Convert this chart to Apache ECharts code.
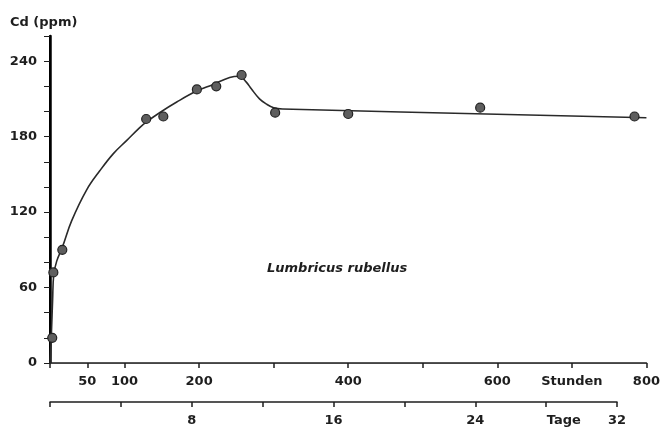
<!DOCTYPE html>
<html>
<head>
<meta charset="utf-8">
<script src="https://cdn.jsdelivr.net/npm/echarts@6/dist/echarts.min.js"></script>
<style>
  html, body { margin: 0; padding: 0; background: #fff; }
  #chart { width: 663px; height: 427px; }
</style>
</head>
<body>
<div id="chart"></div>
<script>
// Cadmium uptake by Lumbricus rubellus over time
var sampleHours = [3, 4.5, 16.5, 129, 152, 197, 223, 257, 302, 400, 577, 784];
var sampleCd    = [20, 72, 90, 194, 196, 217.5, 220, 229, 199, 198, 203, 196];

// fitted uptake curve (hours, ppm)
var curveHours = [0, 2, 3.5, 5, 9, 16.5, 29, 49, 67, 85, 103, 120, 129, 147, 170, 196, 219, 241, 254, 263, 270, 281, 290, 300, 312, 800];
var curveCd    = [0, 25, 50, 70, 81, 92, 113, 137.5, 153, 166.5, 177, 187, 191.5, 199, 207.5, 216, 221.5, 227, 228, 223.5, 218, 210, 206, 203, 202, 195];

var hourTicks  = [0, 50, 100, 200, 300, 400, 500, 600, 700, 800];
var hourLabels = [50, 100, 200, 400, 600, 700, 800];
var dayTicks   = [0, 4, 8, 12, 16, 20, 24, 28, 32];
var dayLabels  = [8, 16, 24, 29, 32];
var cdLabels   = [0, 60, 120, 180, 240];

var ink = '#1e1e1e';
var font = '"DejaVu Sans", Verdana, sans-serif';
var labelStyle = { color: ink, fontSize: 13, fontWeight: 'bold', fontFamily: font };

var chart = echarts.init(document.getElementById('chart'), null, { renderer: 'canvas' });

chart.setOption({
  backgroundColor: '#fff',
  animation: false,
  title: {
    text: 'Cd (ppm)',
    left: 5, top: 11,
    textStyle: { color: ink, fontSize: 13, fontWeight: 'bold', fontFamily: font }
  },
  grid: [
    { left: 50, right: 15, top: 36, bottom: 64 },
    { left: 50, width: 567, top: 401, height: 1 }
  ],
  xAxis: [
    {
      gridIndex: 0, type: 'value', position: 'bottom', min: 0, max: 800,
      axisLine: { show: true, lineStyle: { color: ink, width: 1.5 } },
      axisTick: { show: true, inside: false, length: 5, customValues: hourTicks, lineStyle: { color: ink, width: 1.5 } },
      axisLabel: Object.assign({
        margin: 12,
        customValues: hourLabels,
        formatter: function (v) { return v === 700 ? 'Stunden' : String(v); }
      }, labelStyle),
      splitLine: { show: false }
    },
    {
      gridIndex: 0, type: 'value', position: 'top', min: 0, max: 800,
      axisLine: { show: true, lineStyle: { color: '#444', width: 1 } },
      axisTick: { show: false }, axisLabel: { show: false }, splitLine: { show: false }
    },
    {
      gridIndex: 1, type: 'value', position: 'bottom', min: 0, max: 32,
      axisLine: { show: true, lineStyle: { color: ink, width: 1.5 } },
      axisTick: { show: true, length: 5, customValues: dayTicks, lineStyle: { color: ink, width: 1.5 } },
      axisLabel: Object.assign({
        margin: 12,
        customValues: dayLabels,
        formatter: function (v) { return v === 29 ? 'Tage' : String(v); }
      }, labelStyle),
      splitLine: { show: false }
    }
  ],
  yAxis: [
    {
      gridIndex: 0, type: 'value', position: 'left', min: 0, max: 260, interval: 20,
      axisLine: { show: true, lineStyle: { color: '#000', width: 2.5 } },
      axisTick: { show: true, length: 6, lineStyle: { color: ink, width: 1 } },
      axisLabel: Object.assign({
        margin: 13,
        formatter: function (v) { return cdLabels.indexOf(v) >= 0 ? String(v) : ''; }
      }, labelStyle),
      splitLine: { show: false }
    },
    {
      gridIndex: 0, type: 'value', position: 'right', min: 0, max: 260,
      axisLine: { show: true, lineStyle: { color: '#000', width: 2 } },
      axisTick: { show: false }, axisLabel: { show: false }, splitLine: { show: false }
    },
    {
      gridIndex: 1, type: 'value', show: false, min: 0, max: 1
    }
  ],
  graphic: [
    {
      type: 'text', left: 267, top: 262,
      style: {
        text: 'Lumbricus rubellus',
        fill: ink, fontSize: 13, fontWeight: 'bold', fontStyle: 'italic', fontFamily: font
      }
    }
  ],
  series: [
    {
      type: 'line', xAxisIndex: 0, yAxisIndex: 0,
      data: curveHours.map(function (h, i) { return [h, curveCd[i]]; }),
      smooth: 0.4, showSymbol: false,
      lineStyle: { color: '#2a2a2a', width: 1.6 },
      z: 2
    },
    {
      type: 'scatter', xAxisIndex: 0, yAxisIndex: 0,
      data: sampleHours.map(function (h, i) { return [h, sampleCd[i]]; }),
      symbolSize: 9,
      itemStyle: { color: '#5e5e5e', borderColor: '#222', borderWidth: 1.2, opacity: 1 },
      z: 3
    }
  ]
});
</script>
</body>
</html>
